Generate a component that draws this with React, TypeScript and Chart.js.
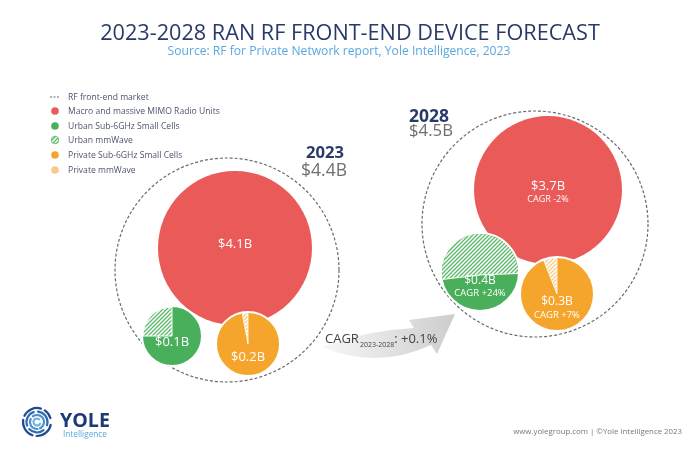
import React, { useEffect, useRef } from 'react';
import { Chart, registerables } from 'chart.js';

Chart.register(...registerables);

// ---------- data ----------
const YEARS = ['2023', '2028'];
const TOTAL_MARKET = [4.4, 4.5]; // $B, RF front-end market
const MACRO = [4.1, 3.7]; // Macro and massive MIMO Radio Units
const URBAN_SMALL_CELLS = [0.1, 0.4]; // Urban small cells total (Sub-6GHz + mmWave)
const URBAN_MMWAVE = [0.025, 0.23]; // Urban mmWave part
const PRIVATE_SMALL_CELLS = [0.2, 0.3]; // Private small cells total (Sub-6GHz + mmWave)
const PRIVATE_MMWAVE = [0.006, 0.018]; // Private mmWave part
const CAGR_2028 = [-2, 24, 7]; // macro, urban, private (%)
const TOTAL_CAGR = 0.1; // %
const LEGEND_LABELS = [
  'RF front-end market',
  'Macro and massive MIMO Radio Units',
  'Urban Sub-6GHz Small Cells',
  'Urban mmWave',
  'Private Sub-6GHz Small Cells',
  'Private mmWave',
];

// ---------- layout (positions / sizes, px on a 700x452 canvas) ----------
const W = 700;
const H = 452;
const MARKET_POS = [{ x: 227, y: 270, r: 112 }, { x: 535, y: 224, r: 113 }];
const MACRO_POS = [{ x: 235, y: 248, r: 77 }, { x: 548, y: 190, r: 74 }];
const URBAN_POS = [{ x: 172, y: 336, r: 30 }, { x: 480, y: 272, r: 39 }];
const PRIVATE_POS = [{ x: 248, y: 344, r: 32 }, { x: 557, y: 294, r: 37 }];
const URBAN_SPLIT = ['wedge', 'level'];

// ---------- styles ----------
const FONT = '"Open Sans", "Noto Sans", sans-serif';
const NAVY = '#2a3a68';
const RED = '#EA5A59';
const GREEN = '#49AF5B';
const GREEN_HATCH = '#5cb96a';
const ORANGE = '#F5A52B';
const PALE_ORANGE = '#F8CC88';
const LIGHT_BLUE = '#5aa8df';

function fitSize(ctx: CanvasRenderingContext2D, text: string, width: number, weight: string) {
  ctx.font = `${weight} 100px ${FONT}`;
  return (100 * width) / ctx.measureText(text).width;
}

function text(
  ctx: CanvasRenderingContext2D,
  t: string,
  x: number,
  y: number,
  o: { width?: number; size?: number; weight?: string; color: string; align?: CanvasTextAlign; baseline?: CanvasTextBaseline }
) {
  const weight = o.weight || '400';
  const size = o.width ? fitSize(ctx, t, o.width, weight) : o.size || 12;
  ctx.font = `${weight} ${size}px ${FONT}`;
  ctx.fillStyle = o.color;
  ctx.textAlign = o.align || 'center';
  ctx.textBaseline = o.baseline || 'alphabetic';
  ctx.fillText(t, x, y);
  return ctx.measureText(t).width;
}

function makeHatch(ctx: CanvasRenderingContext2D, fg: string, bg: string) {
  const p = document.createElement('canvas');
  p.width = 4;
  p.height = 4;
  const c = p.getContext('2d')!;
  c.fillStyle = bg;
  c.fillRect(0, 0, 4, 4);
  c.strokeStyle = fg;
  c.lineWidth = 1.3;
  c.beginPath();
  c.moveTo(0, 4);
  c.lineTo(4, 0);
  c.moveTo(-1, 1);
  c.lineTo(1, -1);
  c.moveTo(3, 5);
  c.lineTo(5, 3);
  c.stroke();
  return ctx.createPattern(p, 'repeat')!;
}

const fmtB = (v: number) => `$${v.toFixed(1)}B`;
const fmtCagr = (v: number) => `CAGR ${v > 0 ? '+' : ''}${v}%`;

function levelOffset(share: number) {
  // find u in [-1,1] so that the area above y = cy + u*r equals share of circle
  let lo = -1;
  let hi = 1;
  for (let k = 0; k < 40; k++) {
    const u = (lo + hi) / 2;
    const f = (Math.acos(-u) + u * Math.sqrt(1 - u * u)) / Math.PI;
    if (f < share) lo = u;
    else hi = u;
  }
  return (lo + hi) / 2;
}

const infographic = {
  id: 'infographic',
  beforeDatasetDraw(chart: any, args: any) {
    if (args.index === 0) {
      chart.ctx.setLineDash([3, 2]);
    }
  },
  afterDatasetDraw(chart: any, args: any) {
    if (args.index === 0) chart.ctx.setLineDash([]);
  },
  beforeDatasetsDraw(chart: any) {
    const ctx: CanvasRenderingContext2D = chart.ctx;
    ctx.save();
    // background
    ctx.fillStyle = '#ffffff';
    ctx.fillRect(0, 0, W, H);

    // title
    text(ctx, '2023-2028 RAN RF FRONT-END DEVICE FORECAST', 350, 40, { width: 500, color: NAVY });
    text(ctx, 'Source: RF for Private Network report, Yole Intelligence, 2023', 339, 55, { width: 343, color: LIGHT_BLUE });

    // legend
    const hatchG = makeHatch(ctx, GREEN_HATCH, '#ffffff');
    const rows = [97, 111, 126, 140, 155, 170];
    const legendSize = fitSize(ctx, LEGEND_LABELS[1], 152, '400');
    LEGEND_LABELS.forEach((lab, i) => {
      const y = rows[i];
      const mx = 55;
      if (i === 0) {
        ctx.strokeStyle = '#666';
        ctx.lineWidth = 1;
        ctx.setLineDash([2, 1.5]);
        ctx.beginPath();
        ctx.moveTo(mx - 5, y);
        ctx.lineTo(mx + 5, y);
        ctx.stroke();
        ctx.setLineDash([]);
      } else {
        const fills = [null, RED, GREEN, hatchG, ORANGE, PALE_ORANGE];
        ctx.beginPath();
        ctx.arc(mx, y, 3.8, 0, Math.PI * 2);
        ctx.fillStyle = fills[i] as any;
        ctx.fill();
        if (i === 3) {
          ctx.strokeStyle = GREEN_HATCH;
          ctx.lineWidth = 0.8;
          ctx.stroke();
        }
      }
      text(ctx, lab, 68, y + 3.2, { size: legendSize, color: '#4d5470', align: 'left' });
    });

    // arrow
    const g = ctx.createLinearGradient(322, 0, 455, 0);
    g.addColorStop(0, '#f7f7f7');
    g.addColorStop(1, '#cdcdcd');
    ctx.fillStyle = g;
    ctx.beginPath();
    ctx.moveTo(322, 347);
    ctx.quadraticCurveTo(368, 330, 414, 328);
    ctx.lineTo(409, 320);
    ctx.lineTo(455, 314);
    ctx.lineTo(437, 354);
    ctx.lineTo(431, 345);
    ctx.quadraticCurveTo(376, 370, 322, 347);
    ctx.closePath();
    ctx.fill();

    // CAGR text
    let x = 325;
    x += text(ctx, 'CAGR', x, 343, { size: 13, color: '#444', align: 'left' });
    x += text(ctx, `${YEARS[0]}-${YEARS[1]}`, x + 1, 347, { size: 7, color: '#444', align: 'left' }) + 1;
    text(ctx, `: +${TOTAL_CAGR}%`, x, 343, { size: 13, color: '#444', align: 'left' });

    // logo
    const cx = 37;
    const cy = 422;
    const rings = [
      { r: 14, c: '#1f4b8e', segs: [[0.2, 1.6], [1.9, 3.3], [3.6, 5.0], [5.3, 6.0]] },
      { r: 10.5, c: '#2e6bb0', segs: [[0.9, 2.4], [2.8, 4.4], [4.8, 6.6]] },
      { r: 7, c: '#4b90cf', segs: [[1.5, 3.6], [4.1, 7.4]] },
      { r: 3.5, c: '#6fb3e6', segs: [[0.5, 5.4]] },
    ];
    ctx.lineCap = 'round';
    rings.forEach((ring) => {
      ctx.strokeStyle = ring.c;
      ctx.lineWidth = 2.2;
      ring.segs.forEach(([a, b]) => {
        ctx.beginPath();
        ctx.arc(cx, cy, ring.r, a, b);
        ctx.stroke();
      });
    });
    ctx.lineCap = 'butt';
    text(ctx, 'YOLE', 60, 427, { width: 50, weight: '700', color: '#1d3a74', align: 'left' });
    text(ctx, 'Intelligence', 63, 437, { width: 44, color: LIGHT_BLUE, align: 'left' });

    // footer
    text(ctx, 'www.yolegroup.com | ©Yole Intelligence 2023', 682, 434, { width: 169, color: '#777', align: 'right' });
    ctx.restore();
  },
  afterDatasetsDraw(chart: any) {
    const ctx: CanvasRenderingContext2D = chart.ctx;
    ctx.save();
    const hatchG = makeHatch(ctx, GREEN_HATCH, '#ffffff');
    const hatchO = makeHatch(ctx, PALE_ORANGE, '#ffffff');
    const urbanMeta = chart.getDatasetMeta(2);
    const privMeta = chart.getDatasetMeta(3);
    YEARS.forEach((_, i) => {
      // urban mmWave share
      const ue: any = urbanMeta.data[i];
      const ur = ue.options.radius - 1;
      const us = URBAN_MMWAVE[i] / URBAN_SMALL_CELLS[i];
      if (URBAN_SPLIT[i] === 'wedge') {
        ctx.beginPath();
        ctx.moveTo(ue.x, ue.y);
        ctx.arc(ue.x, ue.y, ur, -Math.PI / 2 - us * Math.PI * 2, -Math.PI / 2);
        ctx.closePath();
        ctx.fillStyle = hatchG;
        ctx.fill();
        ctx.strokeStyle = '#fff';
        ctx.lineWidth = 1;
        ctx.stroke();
      } else {
        const u = levelOffset(us);
        const ty = ue.y + u * ur;
        ctx.save();
        ctx.beginPath();
        ctx.arc(ue.x, ue.y, ur, 0, Math.PI * 2);
        ctx.clip();
        ctx.fillStyle = hatchG;
        ctx.beginPath();
        ctx.moveTo(ue.x - ur, ty + 3);
        ctx.quadraticCurveTo(ue.x, ty - 3, ue.x + ur, ty - 3);
        ctx.lineTo(ue.x + ur, ue.y - ur);
        ctx.lineTo(ue.x - ur, ue.y - ur);
        ctx.closePath();
        ctx.fill();
        ctx.strokeStyle = '#fff';
        ctx.lineWidth = 1;
        ctx.beginPath();
        ctx.moveTo(ue.x - ur, ty + 3);
        ctx.quadraticCurveTo(ue.x, ty - 3, ue.x + ur, ty - 3);
        ctx.stroke();
        ctx.restore();
      }
      // private mmWave share
      const pe: any = privMeta.data[i];
      const pr = pe.options.radius - 1;
      const ps = PRIVATE_MMWAVE[i] / PRIVATE_SMALL_CELLS[i];
      ctx.beginPath();
      ctx.moveTo(pe.x, pe.y);
      ctx.arc(pe.x, pe.y, pr, -Math.PI / 2 - ps * Math.PI * 2, -Math.PI / 2);
      ctx.closePath();
      ctx.fillStyle = hatchO;
      ctx.fill();
      ctx.strokeStyle = '#fff';
      ctx.lineWidth = 0.8;
      ctx.stroke();

      // labels
      const me: any = chart.getDatasetMeta(1).data[i];
      const wcol = '#ffffff';
      if (i === 0) {
        text(ctx, fmtB(MACRO[i]), me.x, me.y - 4, { size: 13, color: wcol, baseline: 'middle' });
        text(ctx, fmtB(URBAN_SMALL_CELLS[i]), ue.x, ue.y + 6, { size: 13, color: wcol, baseline: 'middle' });
        text(ctx, fmtB(PRIVATE_SMALL_CELLS[i]), pe.x, pe.y + 13, { size: 13, color: wcol, baseline: 'middle' });
      } else {
        text(ctx, fmtB(MACRO[i]), me.x, me.y - 4, { size: 13, color: wcol, baseline: 'middle' });
        text(ctx, fmtCagr(CAGR_2028[0]), me.x, me.y + 9, { size: 9, color: wcol, baseline: 'middle' });
        text(ctx, fmtB(URBAN_SMALL_CELLS[i]), ue.x, ue.y + 9, { size: 12, color: wcol, baseline: 'middle' });
        text(ctx, fmtCagr(CAGR_2028[1]), ue.x, ue.y + 21, { size: 9.5, color: wcol, baseline: 'middle' });
        text(ctx, fmtB(PRIVATE_SMALL_CELLS[i]), pe.x, pe.y + 8, { size: 12, color: wcol, baseline: 'middle' });
        text(ctx, fmtCagr(CAGR_2028[2]), pe.x, pe.y + 21, { size: 9.5, color: wcol, baseline: 'middle' });
      }
    });

    // year headers
    text(ctx, YEARS[0], 325, 158, { width: 38, weight: '700', color: NAVY });
    text(ctx, fmtB(TOTAL_MARKET[0]), 324, 176, { width: 46, color: '#6f6f6f' });
    text(ctx, YEARS[1], 409, 122, { width: 40, weight: '700', color: NAVY, align: 'left' });
    text(ctx, fmtB(TOTAL_MARKET[1]), 409, 136, { width: 44, color: '#6f6f6f', align: 'left' });
    ctx.restore();
  },
};

function pts(pos: { x: number; y: number; r: number }[], vals: number[]) {
  return pos.map((p, i) => ({ x: p.x, y: p.y, r: p.r, v: vals[i] }));
}

export default function App() {
  const ref = useRef<HTMLCanvasElement>(null);
  useEffect(() => {
    document.body.style.margin = '0';
    const chart = new Chart(ref.current!, {
      type: 'bubble',
      data: {
        datasets: [
          {
            label: LEGEND_LABELS[0],
            data: pts(MARKET_POS, TOTAL_MARKET),
            backgroundColor: 'rgba(0,0,0,0)',
            borderColor: '#6a6a6a',
            borderWidth: 1.2,
            order: 4,
          },
          {
            label: LEGEND_LABELS[1],
            data: pts(MACRO_POS, MACRO),
            backgroundColor: RED,
            borderColor: RED,
            borderWidth: 0,
            order: 3,
          },
          {
            label: LEGEND_LABELS[2],
            data: pts(URBAN_POS, URBAN_SMALL_CELLS),
            backgroundColor: GREEN,
            borderColor: '#ffffff',
            borderWidth: 2,
            order: 2,
          },
          {
            label: LEGEND_LABELS[4],
            data: pts(PRIVATE_POS, PRIVATE_SMALL_CELLS),
            backgroundColor: ORANGE,
            borderColor: '#ffffff',
            borderWidth: 2,
            order: 1,
          },
        ] as any,
      },
      options: {
        animation: false,
        responsive: false,
        maintainAspectRatio: false,
        devicePixelRatio: 1,
        layout: { padding: 0, autoPadding: false },
        events: [],
        scales: {
          x: { type: 'linear', min: 0, max: W, display: false },
          y: { type: 'linear', min: 0, max: H, reverse: true, display: false },
        },
        plugins: {
          legend: { display: false },
          tooltip: { enabled: false },
          title: { display: false },
        },
      } as any,
      plugins: [infographic],
    });
    return () => chart.destroy();
  }, []);
  return <canvas ref={ref} width={W} height={H} style={{ display: 'block' }} />;
}
